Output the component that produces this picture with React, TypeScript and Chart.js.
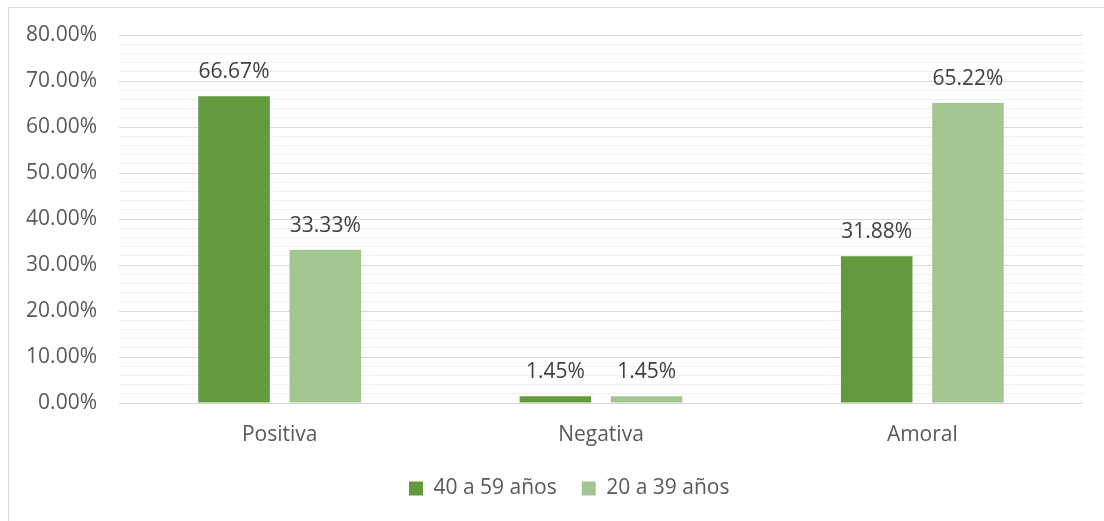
import React, { useEffect, useRef } from "react";
import { Chart, registerables } from "chart.js";

Chart.register(...registerables);

const categories = ["Positiva", "Negativa", "Amoral"];
const seriesNames = ["40 a 59 años", "20 a 39 años"];
const older = [66.67, 1.45, 31.88];
const younger = [33.33, 1.45, 65.22];
const seriesColors = ["#629a3d", "#a3c690"];

const FONT = "'Open Sans', 'Noto Sans', sans-serif";
const SIZE = 21;
const pct = (v: number) => v.toFixed(2) + "%";

// Frame line along the top and left of the chart object
const framePlugin = {
  id: "frame",
  beforeDraw(chart: Chart) {
    const { ctx, width, height } = chart;
    ctx.save();
    ctx.fillStyle = "#ffffff";
    ctx.fillRect(0, 0, width, height);
    ctx.strokeStyle = "#d9d9d9";
    ctx.lineWidth = 1;
    ctx.beginPath();
    ctx.moveTo(8.5, height + 2);
    ctx.lineTo(8.5, 7.5);
    ctx.lineTo(width + 2, 7.5);
    ctx.stroke();
    ctx.restore();
  },
};

// The legend is centred on the full frame width, which runs past the plot's right edge
const legendShiftPlugin = {
  id: "legendShift",
  afterLayout(chart: any) {
    const lg = chart.legend;
    if (!lg || !lg.lineWidths) return;
    const pad = lg.options.labels.padding;
    const start = (lg.left + pad + lg.right - lg.lineWidths[0]) / 2;
    const d = 409 - start;
    lg.left += d;
    lg.right += d;
  },
};

// Value labels above each bar
const valueLabelPlugin = {
  id: "valueLabels",
  afterDatasetsDraw(chart: Chart) {
    const { ctx } = chart;
    ctx.save();
    ctx.font = `${SIZE}px ${FONT}`;
    ctx.fillStyle = "#404040";
    ctx.textAlign = "center";
    ctx.textBaseline = "middle";
    chart.data.datasets.forEach((ds, di) => {
      const meta = chart.getDatasetMeta(di);
      meta.data.forEach((el: any, i) => {
        const v = ds.data[i] as number;
        ctx.fillText(pct(v), el.x, el.y - 24);
      });
    });
    ctx.restore();
  },
};

export default function App() {
  const canvasRef = useRef<HTMLCanvasElement | null>(null);

  useEffect(() => {
    if (!canvasRef.current) return;
    const chart = new Chart(canvasRef.current, {
      type: "bar",
      data: {
        labels: categories,
        datasets: [
          { label: seriesNames[0], data: older, backgroundColor: seriesColors[0] },
          { label: seriesNames[1], data: younger, backgroundColor: seriesColors[1] },
        ],
      },
      options: {
        responsive: false,
        animation: false,
        events: [],
        datasets: {
          bar: { categoryPercentage: 0.568, barPercentage: 0.784 },
        },
        layout: { padding: { left: 8, right: 21, top: 35, bottom: 12 } },
        scales: {
          x: {
            grid: { display: false, drawTicks: false },
            border: { display: false },
            ticks: { color: "#595959", font: { family: FONT, size: SIZE }, padding: 19 },
            afterFit: (s: any) => {
              s.height = 50;
            },
          },
          y: {
            min: 0,
            max: 80,
            border: { display: false },
            grid: {
              drawTicks: false,
              color: (c: any) => (c.tick && c.tick.value % 10 === 0 ? "#d9d9d9" : "#f0f0f0"),
              lineWidth: 1,
            },
            ticks: {
              stepSize: 2,
              autoSkip: false,
              padding: 22,
              color: "#595959",
              font: { family: FONT, size: SIZE },
              callback: (v: any) => (Number(v) % 10 === 0 ? pct(Number(v)) : ""),
            },
            afterFit: (s: any) => {
              s.width = 111;
            },
          },
        },
        plugins: {
          legend: {
            position: "bottom",
            labels: {
              boxWidth: 14,
              boxHeight: 14,
              padding: 25,
              color: "#595959",
              font: { family: FONT, size: SIZE },
            },
          },
          tooltip: { enabled: false },
        },
      },
      plugins: [framePlugin, legendShiftPlugin, valueLabelPlugin],
    });
    return () => chart.destroy();
  }, []);

  return (
    <div style={{ position: "fixed", left: 0, top: 0, width: 1104, height: 521, background: "#fff" }}>
      <canvas ref={canvasRef} width={1104} height={521} />
    </div>
  );
}
